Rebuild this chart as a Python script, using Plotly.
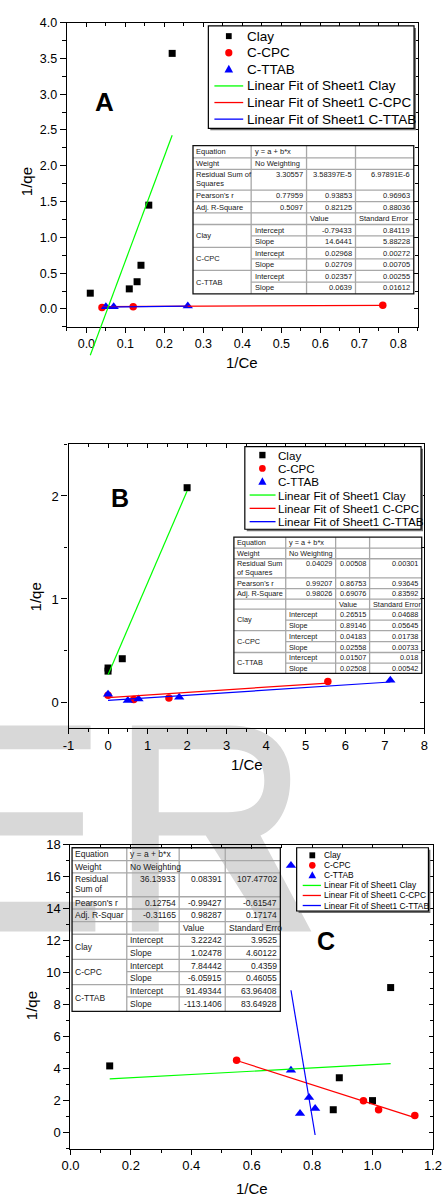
import plotly.graph_objects as go

W, H = 448, 1197
def X(p): return p / W
def Y(p): return 1 - p / H

FONT = "Liberation Sans, Arial, Helvetica, sans-serif"
GREEN, RED, BLUE, BLACK = "#00ff00", "#ff0000", "#0000ff", "#000000"

# ---------------- data ----------------
series_names = ["Clay", "C-CPC", "C-TTAB"]
legend_labels = ["Clay", "C-CPC", "C-TTAB",
                 "Linear Fit of Sheet1 Clay", "Linear Fit of Sheet1 C-CPC",
                 "Linear Fit of Sheet1 C-TTAB"]

# Panel A
a_clay_x = [0.01, 0.11, 0.13, 0.14, 0.16, 0.22]
a_clay_y = [0.22, 0.28, 0.38, 0.61, 1.45, 3.57]
a_cpc_x = [0.04, 0.12, 0.76]
a_cpc_y = [0.02, 0.03, 0.05]
a_ttab_x = [0.05, 0.07, 0.26]
a_ttab_y = [0.03, 0.03, 0.04]
a_clay_fit_x = [0.01, 0.22]
a_cpc_fit_x = [0.04, 0.76]
a_ttab_fit_x = [0.04, 0.26]
a_rss = ["3.30557", "3.58397E-5", "6.97891E-6"]
a_pearson = ["0.77959", "0.93853", "0.96963"]
a_adjr2 = ["0.5097", "0.82125", "0.88036"]
a_intercept = ["-0.79433", "0.02968", "0.02357"]
a_intercept_se = ["0.84119", "0.00272", "0.00255"]
a_slope = ["14.6441", "0.02709", "0.0639"]
a_slope_se = ["5.88228", "0.00705", "0.01612"]
a_xticks = [0.0, 0.1, 0.2, 0.3, 0.4, 0.5, 0.6, 0.7, 0.8]
a_xticklabels = ["0.0", "0.1", "0.2", "0.3", "0.4", "0.5", "0.6", "0.7", "0.8"]
a_yticks = [0.0, 0.5, 1.0, 1.5, 2.0, 2.5, 3.0, 3.5, 4.0]
a_yticklabels = ["0.0", "0.5", "1.0", "1.5", "2.0", "2.5", "3.0", "3.5", "4.0"]

# Panel B
b_clay_x = [0.0, 0.0, 0.36, 2.0]
b_clay_y = [0.30, 0.33, 0.42, 2.08]
b_cpc_x = [0.0, 0.65, 1.54, 5.56]
b_cpc_y = [0.065, 0.025, 0.038, 0.198]
b_ttab_x = [0.0, 0.5, 0.77, 1.8, 7.14]
b_ttab_y = [0.075, 0.015, 0.03, 0.045, 0.21]
b_clay_fit_x = [0.0, 2.0]
b_cpc_fit_x = [0.0, 5.56]
b_ttab_fit_x = [0.0, 7.14]
b_rss = ["0.04029", "0.00508", "0.00301"]
b_pearson = ["0.99207", "0.86753", "0.93645"]
b_adjr2 = ["0.98026", "0.69076", "0.83592"]
b_intercept = ["0.26515", "0.04183", "0.01507"]
b_intercept_se = ["0.04688", "0.01738", "0.018"]
b_slope = ["0.89146", "0.02558", "0.02508"]
b_slope_se = ["0.05645", "0.00733", "0.00542"]
b_xticks = [-1, 0, 1, 2, 3, 4, 5, 6, 7, 8]
b_xticklabels = ["-1", "0", "1", "2", "3", "4", "5", "6", "7", "8"]
b_yticks = [0, 1, 2]
b_yticklabels = ["0", "1", "2"]

# Panel C
c_clay_x = [0.13, 0.87, 0.89, 1.0, 1.06]
c_clay_y = [4.17, 1.43, 3.43, 2.0, 9.07]
c_cpc_x = [0.55, 0.97, 1.02, 1.14]
c_cpc_y = [4.53, 1.99, 1.43, 1.07]
c_ttab_x = [0.73, 0.73, 0.76, 0.79, 0.81]
c_ttab_y = [16.7, 3.9, 1.2, 2.2, 1.5]
c_clay_fit_x = [0.13, 1.06]
c_cpc_fit_x = [0.55, 1.14]
c_ttab_fit_x = [0.73, 0.81]
c_rss = ["36.13933", "0.08391", "107.47702"]
c_pearson = ["0.12754", "-0.99427", "-0.61547"]
c_adjr2 = ["-0.31165", "0.98287", "0.17174"]
c_intercept = ["3.22242", "7.84442", "91.49344"]
c_intercept_se = ["3.9525", "0.4359", "63.96408"]
c_slope = ["1.02478", "-6.05915", "-113.1406"]
c_slope_se = ["4.60122", "0.46055", "83.64928"]
c_xticks = [0.0, 0.2, 0.4, 0.6, 0.8, 1.0, 1.2]
c_xticklabels = ["0.0", "0.2", "0.4", "0.6", "0.8", "1.0", "1.2"]
c_yticks = [0, 2, 4, 6, 8, 10, 12, 14, 16, 18]
c_yticklabels = ["0", "2", "4", "6", "8", "10", "12", "14", "16", "18"]

# ---------------- figure ----------------
fig = go.Figure()
shapes = []
annotations = []

def ref(k, n):
    return k + ("" if n == 1 else str(n))

def axname(k, n):
    return k + "axis" + ("" if n == 1 else str(n))

layout_axes = {}

def make_panel(n, nov, px_box, xr, yr, xt, xtl, yt, ytl, xminor, yminor, tfs):
    left, right, top, bottom = px_box
    xd = [X(left), X(right)]
    yd = [Y(bottom), Y(top)]
    tickfont = dict(family=FONT, size=tfs, color="black")
    common = dict(showgrid=False, zeroline=False, fixedrange=True)
    layout_axes[axname("x", n)] = dict(
        domain=xd, range=xr, anchor=ref("y", n), showline=True, linewidth=1.4,
        linecolor="black", mirror=True, ticks="outside", ticklen=5, tickwidth=1,
        tickcolor="black", tickmode="array", tickvals=xt, ticktext=xtl,
        tickfont=tickfont,
        minor=dict(ticks="outside", ticklen=3, tickwidth=1, tickcolor="black",
                   tickmode="linear", tick0=0, dtick=xminor, showgrid=False),
        **common)
    layout_axes[axname("y", n)] = dict(
        domain=yd, range=yr, anchor=ref("x", n), showline=True, linewidth=1.4,
        linecolor="black", mirror=True, ticks="outside", ticklen=6, tickwidth=1,
        tickcolor="black", tickmode="array", tickvals=yt, ticktext=ytl,
        tickfont=tickfont,
        minor=dict(ticks="outside", ticklen=3.5, tickwidth=1, tickcolor="black",
                   tickmode="linear", tick0=0, dtick=yminor, showgrid=False),
        **common)
    # mirrored axes with inward ticks (top / right)
    layout_axes[axname("x", nov)] = dict(
        overlaying=ref("x", n), side="top", anchor=ref("y", n), range=xr,
        ticks="inside", ticklen=4, tickwidth=1, tickcolor="black",
        tickmode="array", tickvals=xt, showticklabels=False, showline=False,
        minor=dict(ticks="inside", ticklen=3, tickwidth=1, tickcolor="black",
                   tickmode="linear", tick0=0, dtick=xminor, showgrid=False),
        **common)
    layout_axes[axname("y", nov)] = dict(
        overlaying=ref("y", n), side="right", anchor=ref("x", n), range=yr,
        ticks="inside", ticklen=4, tickwidth=1, tickcolor="black",
        tickmode="array", tickvals=yt, showticklabels=False, showline=False,
        minor=dict(ticks="inside", ticklen=3, tickwidth=1, tickcolor="black",
                   tickmode="linear", tick0=0, dtick=yminor, showgrid=False),
        **common)
    fig.add_trace(go.Scatter(x=[None], y=[None], xaxis=ref("x", nov), yaxis=ref("y", nov),
                             showlegend=False, hoverinfo="skip"))

def add_markers(n, xs, ys, color, symbol, size):
    fig.add_trace(go.Scatter(x=xs, y=ys, mode="markers", xaxis=ref("x", n), yaxis=ref("y", n),
                             marker=dict(symbol=symbol, size=size, color=color,
                                         line=dict(width=0)),
                             showlegend=False, hoverinfo="skip", cliponaxis=False))

def add_fit(n, xr, a, b, color):
    xs = list(xr)
    ys = [float(a) + float(b) * v for v in xs]
    fig.add_trace(go.Scatter(x=xs, y=ys, mode="lines", xaxis=ref("x", n), yaxis=ref("y", n),
                             line=dict(color=color, width=1.2),
                             showlegend=False, hoverinfo="skip"))

# Panel A
A_BOX = (60.3, 426.0, 15.7, 321.7)
A_XR, A_YR = [-0.05, 0.85], [-0.25, 4.0]
make_panel(1, 4, A_BOX, A_XR, A_YR, a_xticks, a_xticklabels, a_yticks, a_yticklabels, 0.05, 0.25, 12.5)
# Panel B
B_BOX = (62.0, 432.7, 440.0, 725.0)
B_XR, B_YR = [-1, 8], [-0.25, 2.5]
make_panel(2, 5, B_BOX, B_XR, B_YR, b_xticks, b_xticklabels, b_yticks, b_yticklabels, 0.5, 0.5, 13)
# Panel C
C_BOX = (64.0, 441.7, 842.7, 1148.3)
C_XR, C_YR = [0, 1.2], [-1, 18]
make_panel(3, 6, C_BOX, C_XR, C_YR, c_xticks, c_xticklabels, c_yticks, c_yticklabels, 0.1, 1, 13)

# extra invisible axis pair for panel A so the steep Clay fit can run past the frame (as in the original)
ext_px = 30.0
a_scale = (A_YR[1] - A_YR[0]) / (A_BOX[3] - A_BOX[2])
layout_axes["xaxis7"] = dict(domain=[X(A_BOX[0]), X(A_BOX[1])], range=A_XR, anchor="y7", visible=False, fixedrange=True)
layout_axes["yaxis7"] = dict(domain=[Y(A_BOX[3] + ext_px), Y(A_BOX[2])],
                             range=[A_YR[0] - ext_px * a_scale, A_YR[1]], anchor="x7", visible=False, fixedrange=True)

# traces
for n, data in [
    (1, (a_clay_x, a_clay_y, a_cpc_x, a_cpc_y, a_ttab_x, a_ttab_y)),
    (2, (b_clay_x, b_clay_y, b_cpc_x, b_cpc_y, b_ttab_x, b_ttab_y)),
    (3, (c_clay_x, c_clay_y, c_cpc_x, c_cpc_y, c_ttab_x, c_ttab_y)),
]:
    add_markers(n, data[0], data[1], BLACK, "square", 7)
    add_markers(n, data[2], data[3], RED, "circle", 7.5)
    add_markers(n, data[4], data[5], BLUE, "triangle-up", 9)

add_fit(7, a_clay_fit_x, a_intercept[0], a_slope[0], GREEN)
add_fit(1, a_cpc_fit_x, a_intercept[1], a_slope[1], RED)
add_fit(1, a_ttab_fit_x, a_intercept[2], a_slope[2], BLUE)
add_fit(2, b_clay_fit_x, b_intercept[0], b_slope[0], GREEN)
add_fit(2, b_cpc_fit_x, b_intercept[1], b_slope[1], RED)
add_fit(2, b_ttab_fit_x, b_intercept[2], b_slope[2], BLUE)
add_fit(3, c_clay_fit_x, c_intercept[0], c_slope[0], GREEN)
add_fit(3, c_cpc_fit_x, c_intercept[1], c_slope[1], RED)
add_fit(3, c_ttab_fit_x, c_intercept[2], c_slope[2], BLUE)

# ---------------- watermark (background letters) ----------------
WM = "#d8d8d8"
def P(x, y):
    return f"{X(x):.5f},{Y(y):.5f}"
for (x0, y0, x1, y1) in [(-20, 722.7, 85, 746.7), (-20, 810, 77, 833.3), (-20, 900, 90, 930)]:
    shapes.append(dict(type="rect", xref="paper", yref="paper", x0=X(x0), x1=X(x1), y0=Y(y1), y1=Y(y0),
                       fillcolor=WM, line=dict(width=0), layer="below"))
r_path = ("M" + P(128, 722.7) + " L" + P(230, 722.7) +
          " C" + P(272, 722.7) + " " + P(293, 745) + " " + P(293, 777) +
          " C" + P(293, 805) + " " + P(280, 826) + " " + P(262, 833.3) +
          " L" + P(315, 930) + " L" + P(268, 930) + " L" + P(205, 833.3) +
          " L" + P(156, 833.3) + " L" + P(156, 930) + " L" + P(128, 930) + " Z" +
          " M" + P(156, 746.7) + " L" + P(228, 746.7) +
          " C" + P(256, 746.7) + " " + P(266, 760) + " " + P(266, 778) +
          " C" + P(266, 797) + " " + P(256, 810) + " " + P(228, 810) +
          " L" + P(156, 810) + " Z")
shapes.append(dict(type="path", xref="paper", yref="paper", path=r_path, fillcolor=WM,
                   fillrule="evenodd", line=dict(width=0), layer="below"))

# ---------------- legends ----------------
def add_legend(box, mx, lx0, lx1, tx, row0, dy, fs, sq, ci, tr):
    x0, x1, y0, y1 = box
    shapes.append(dict(type="rect", xref="paper", yref="paper", x0=X(x0 + 2), x1=X(x1 + 2),
                       y0=Y(y1 + 2), y1=Y(y0 + 2), fillcolor="#707070", line=dict(width=0), layer="above"))
    shapes.append(dict(type="rect", xref="paper", yref="paper", x0=X(x0), x1=X(x1), y0=Y(y1), y1=Y(y0),
                       fillcolor="white", line=dict(color="black", width=1.2), layer="above"))
    for i, lab in enumerate(legend_labels):
        cy = row0 + i * dy
        if i == 0:
            shapes.append(dict(type="rect", xref="paper", yref="paper", x0=X(mx - sq / 2), x1=X(mx + sq / 2),
                               y0=Y(cy + sq / 2), y1=Y(cy - sq / 2), fillcolor=BLACK, line=dict(width=0), layer="above"))
        elif i == 1:
            shapes.append(dict(type="circle", xref="paper", yref="paper", x0=X(mx - ci / 2), x1=X(mx + ci / 2),
                               y0=Y(cy + ci / 2), y1=Y(cy - ci / 2), fillcolor=RED, line=dict(width=0), layer="above"))
        elif i == 2:
            h = tr * 0.87
            path = "M" + P(mx, cy - h * 0.6) + " L" + P(mx + tr / 2, cy + h * 0.4) + " L" + P(mx - tr / 2, cy + h * 0.4) + " Z"
            shapes.append(dict(type="path", xref="paper", yref="paper", path=path, fillcolor=BLUE,
                               line=dict(width=0), layer="above"))
        else:
            col = [GREEN, RED, BLUE][i - 3]
            shapes.append(dict(type="line", xref="paper", yref="paper", x0=X(lx0), x1=X(lx1), y0=Y(cy), y1=Y(cy),
                               line=dict(color=col, width=1.3), layer="above"))
        annotations.append(dict(text=lab, x=X(tx), y=Y(cy), xref="paper", yref="paper", showarrow=False,
                                xanchor="left", yanchor="middle", borderpad=0,
                                font=dict(family=FONT, size=fs, color="black")))

add_legend((207.7, 422.0, 19.0, 122.0), 229, 214, 244, 246.5, 29.3, 16.7, 13.5, 6, 7.5, 9)
add_legend((245.7, 429.3, 442.3, 525.3), 264, 250.7, 277.7, 279.5, 450.7, 13.4, 11.6, 6.5, 7, 8.5)
add_legend((299.7, 437.0, 845.7, 909.3), 316, 306, 325, 326.8, 853.3, 10.1, 8.4, 6, 6.8, 8)

# ---------------- fit tables ----------------
def add_table(cols, rows, fs, res_lines, adj_label, se_label, rss, pear, adj, icpt, icpt_se, slp, slp_se):
    tc = "#202020"
    grid = "#a8a8a8"
    for i in range(1, 12):
        xs = cols[1] if i in (7, 9, 11) else cols[0]
        shapes.append(dict(type="line", xref="paper", yref="paper", x0=X(xs), x1=X(cols[4]),
                           y0=Y(rows[i]), y1=Y(rows[i]), line=dict(color=grid, width=1.3), layer="above"))
    for j in (1, 2, 3):
        shapes.append(dict(type="line", xref="paper", yref="paper", x0=X(cols[j]), x1=X(cols[j]),
                           y0=Y(rows[12]), y1=Y(rows[0]), line=dict(color=grid, width=1.3), layer="above"))
    shapes.append(dict(type="rect", xref="paper", yref="paper", x0=X(cols[0]), x1=X(cols[4]),
                       y0=Y(rows[12]), y1=Y(rows[0]), line=dict(color="#111111", width=1.3), layer="above"))

    def put(s, x, xa, y):
        annotations.append(dict(text=s, x=X(x), y=Y(y), xref="paper", yref="paper", showarrow=False,
                                xanchor=xa, yanchor="middle", align="left", borderpad=0,
                                font=dict(family=FONT, size=fs, color=tc)))

    def txt(s, col, r, align="left", r2=None, yc=None):
        if align == "left":
            x, xa = cols[col] + 2.5, "left"
        else:
            x, xa = cols[col + 1] - 2.5, "right"
        if yc is None:
            yb = rows[r2 + 1] if r2 is not None else rows[r + 1]
            yc = (rows[r] + yb) / 2
        put(s, x, xa, yc)

    txt("Equation", 0, 0)
    txt("y = a + b*x", 1, 0)
    txt("Weight", 0, 1)
    txt("No Weighting", 1, 1)
    first = rows[2] + 0.7 * fs
    for k, ln in enumerate(res_lines):
        txt(ln, 0, 2, yc=first + k * 1.2 * fs)
    for k in range(3):
        txt(rss[k], k + 1, 2, align="right", yc=first - 0.3)
    txt("Pearson's r", 0, 3)
    txt(adj_label, 0, 4)
    for k in range(3):
        txt(pear[k], k + 1, 3, align="right")
        txt(adj[k], k + 1, 4, align="right")
    txt("Value", 2, 5)
    txt(se_label, 3, 5)
    for k in range(3):
        r = 6 + 2 * k
        txt(series_names[k], 0, r, r2=r + 1)
        txt("Intercept", 1, r)
        txt("Slope", 1, r + 1)
        txt(icpt[k], 2, r, align="right")
        txt(icpt_se[k], 3, r, align="right")
        txt(slp[k], 2, r + 1, align="right")
        txt(slp_se[k], 3, r + 1, align="right")

add_table([191.7, 252.3, 310.0, 361.0, 421.7],
          [139.5, 151.8, 163.3, 184.3, 195.8, 207.0, 218.8, 230.2, 241.7, 253.3, 265.0, 276.7, 288.5],
          7.5, ["Residual Sum of", "Squares"], "Adj. R-Square", "Standard Error",
          a_rss, a_pearson, a_adjr2, a_intercept, a_intercept_se, a_slope, a_slope_se)
add_table([234.3, 288.3, 340.3, 375.7, 430.0],
          [533.3, 544.3, 555.0, 574.3, 585.0, 595.7, 605.7, 616.7, 627.3, 638.3, 649.3, 660.0, 670.3],
          7.3, ["Residual Sum", "of Squares"], "Adj. R-Square", "Standard Error",
          b_rss, b_pearson, b_adjr2, b_intercept, b_intercept_se, b_slope, b_slope_se)
add_table([65.7, 122.7, 177.3, 225.3, 282.7],
          [845.7, 858.7, 871.0, 895.0, 907.3, 920.0, 932.7, 945.0, 958.0, 970.3, 983.3, 995.7, 1010.3],
          8.5, ["Residual", "Sum of"], "Adj. R-Squar", "Standard Erro",
          c_rss, c_pearson, c_adjr2, c_intercept, c_intercept_se, c_slope, c_slope_se)

# ---------------- titles and panel letters ----------------
def label(s, x, y, size, angle=0, bold=False):
    annotations.append(dict(text=("<b>%s</b>" % s) if bold else s, x=X(x), y=Y(y), xref="paper", yref="paper",
                            showarrow=False, xanchor="center", yanchor="middle", textangle=angle,
                            font=dict(family=FONT, size=size, color="black")))

label("1/Ce", 243, 358, 15)
label("1/qe", 19, 176, 15, angle=-90)
label("1/Ce", 248, 762, 15)
label("1/qe", 28, 593, 15, angle=-90)
label("1/Ce", 253, 1188, 15)
label("1/qe", 23, 1005, 15, angle=-90)
label("A", 99.3, 96, 26, bold=True)
label("B", 116, 494, 25, bold=True)
label("C", 330, 939, 25, bold=True)

fig.update_layout(
    width=W, height=H, autosize=False,
    margin=dict(l=0, r=0, t=0, b=0, pad=0),
    paper_bgcolor="white", plot_bgcolor="rgba(0,0,0,0)",
    showlegend=False,
    shapes=shapes, annotations=annotations,
    font=dict(family=FONT, color="black"),
    **layout_axes,
)

fig.write_html("out.html")
